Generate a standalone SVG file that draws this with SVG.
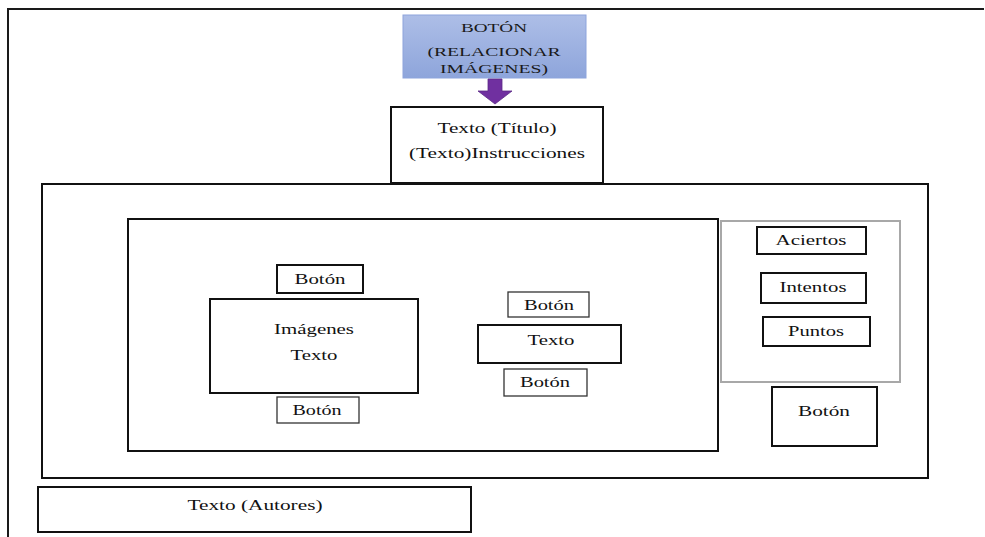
<svg xmlns="http://www.w3.org/2000/svg" width="985" height="537" viewBox="0 0 985 537">
  <style>
    .box { fill: #ffffff; stroke: #111111; stroke-width: 2; }
    .thin { fill: #ffffff; stroke: #333333; stroke-width: 1.3; }
    .gray { fill: none; stroke: #a8a8a8; stroke-width: 2; }
    .frame { fill: none; stroke: #1a1a1a; stroke-width: 2; }
    text { font-family: "Liberation Serif", "Times New Roman", serif; font-size: 14px; fill: #111111; text-anchor: middle; }
    .cap { font-size: 13px; fill: #1a1a1a; }
  </style>
  <defs>
    <linearGradient id="blueFill" x1="0" y1="0" x2="0" y2="1">
      <stop offset="0" stop-color="#adbee7"/>
      <stop offset="1" stop-color="#8ea5db"/>
    </linearGradient>
  </defs>

  <rect width="985" height="537" fill="#ffffff"/>

  <!-- page frame -->
  <g id="frame">
    <path class="frame" d="M8 537 V9 H984"/>
  </g>

  <!-- main button -->
  <g id="boton-relacionar">
    <rect x="403" y="15" width="183" height="63" fill="url(#blueFill)" stroke="#8da4dc" stroke-width="1"/>
    <text class="cap" x="494" y="32" textLength="66" lengthAdjust="spacingAndGlyphs">BOTÓN</text>
    <text class="cap" x="494" y="56" textLength="133" lengthAdjust="spacingAndGlyphs">(RELACIONAR</text>
    <text class="cap" x="494" y="73" textLength="108" lengthAdjust="spacingAndGlyphs">IMÁGENES)</text>
  </g>

  <!-- connectors -->
  <g id="connectors">
    <path d="M488 79 H502 V91 H512 L495 104 L478 91 H488 Z" fill="#7030a0" stroke="#5a2a86" stroke-width="0.8"/>
  </g>

  <!-- title / instructions -->
  <g id="titulo">
    <rect class="box" x="391" y="107" width="212" height="76"/>
    <text x="497" y="133" textLength="119" lengthAdjust="spacingAndGlyphs">Texto (Título)</text>
    <text x="497" y="158" textLength="176" lengthAdjust="spacingAndGlyphs">(Texto)Instrucciones</text>
  </g>

  <!-- main content area -->
  <g id="contenedor">
    <rect class="box" x="42" y="184" width="886" height="294"/>
  </g>

  <g id="area-juego">
    <rect class="box" x="128" y="219" width="590" height="232"/>
  </g>

  <g id="boton-superior">
    <rect class="box" x="277" y="265" width="86" height="28"/>
    <text x="320" y="284" textLength="51" lengthAdjust="spacingAndGlyphs">Botón</text>
  </g>

  <g id="imagenes-texto">
    <rect class="box" x="210" y="299" width="208" height="94"/>
    <text x="314" y="334" textLength="80" lengthAdjust="spacingAndGlyphs">Imágenes</text>
    <text x="314" y="360" textLength="47" lengthAdjust="spacingAndGlyphs">Texto</text>
  </g>

  <g id="boton-inferior">
    <rect class="thin" x="277" y="397" width="82" height="26"/>
    <text x="317" y="415" textLength="49" lengthAdjust="spacingAndGlyphs">Botón</text>
  </g>

  <g id="boton-texto-arriba">
    <rect class="thin" x="508" y="292" width="81" height="25"/>
    <text x="549" y="310" textLength="50" lengthAdjust="spacingAndGlyphs">Botón</text>
  </g>

  <g id="texto">
    <rect class="box" x="478" y="325" width="143" height="38"/>
    <text x="551" y="345" textLength="47" lengthAdjust="spacingAndGlyphs">Texto</text>
  </g>

  <g id="boton-texto-abajo">
    <rect class="thin" x="504" y="369" width="83" height="27"/>
    <text x="545" y="387" textLength="50" lengthAdjust="spacingAndGlyphs">Botón</text>
  </g>

  <!-- score panel -->
  <g id="marcador">
    <rect class="gray" x="721" y="221" width="179" height="161"/>
  </g>

  <g id="aciertos">
    <rect class="box" x="757" y="227" width="109" height="27"/>
    <text x="811" y="245" textLength="71" lengthAdjust="spacingAndGlyphs">Aciertos</text>
  </g>

  <g id="intentos">
    <rect class="box" x="761" y="273" width="105" height="30"/>
    <text x="813" y="292" textLength="67" lengthAdjust="spacingAndGlyphs">Intentos</text>
  </g>

  <g id="puntos">
    <rect class="box" x="763" y="317" width="107" height="29"/>
    <text x="816" y="336" textLength="56" lengthAdjust="spacingAndGlyphs">Puntos</text>
  </g>

  <g id="boton-lateral">
    <rect class="box" x="772" y="387" width="105" height="59"/>
    <text x="824" y="416" textLength="52" lengthAdjust="spacingAndGlyphs">Botón</text>
  </g>

  <!-- footer -->
  <g id="autores">
    <rect class="box" x="38" y="487" width="433" height="45"/>
    <text x="255" y="510" textLength="135" lengthAdjust="spacingAndGlyphs">Texto (Autores)</text>
  </g>
</svg>
